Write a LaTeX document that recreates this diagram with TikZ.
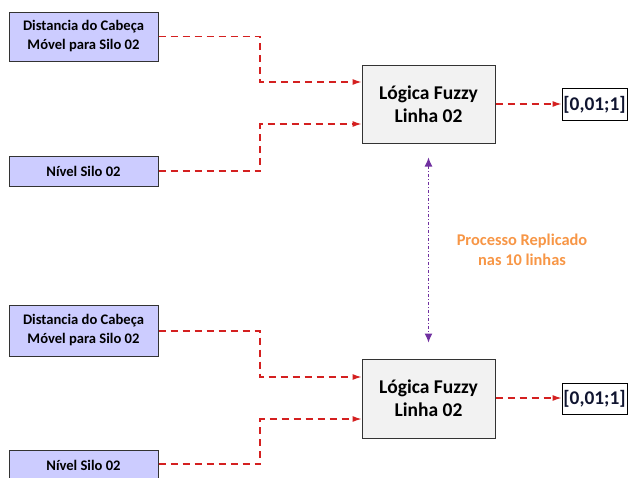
\documentclass[tikz,border=0pt]{standalone}
\usepackage{fontspec}
\setmainfont{Carlito}
\usetikzlibrary{arrows.meta}
\definecolor{inputfill}{HTML}{CCCCFF}
\definecolor{logicfill}{HTML}{F2F2F2}
\definecolor{linkred}{HTML}{D42020}
\definecolor{replica}{HTML}{7030A0}
\definecolor{notecol}{HTML}{F79646}
\definecolor{outtext}{HTML}{101530}
\tikzset{
  inbox/.style={draw=black!80, line width=1pt, fill=inputfill, minimum width=149pt,
    inner sep=0pt, align=center, font=\bfseries\fontsize{14.6}{19}\selectfont},
  logicbox/.style={draw=black!80, line width=1pt, fill=logicfill, minimum width=133pt,
    inner sep=0pt, align=center, font=\bfseries\fontsize{19.5}{23}\selectfont},
  outbox/.style={draw=black, line width=1pt, fill=white, minimum width=65pt,
    inner sep=0pt, text=outtext, font=\bfseries\fontsize{19.4}{22}\selectfont},
  link/.style={draw=linkred, line width=1.1pt, dash pattern=on 7pt off 5pt},
  linkarrow/.style={link, -{Latex[length=9pt,width=6pt]}},
  replicate/.style={draw=replica, line width=1.1pt, dash pattern=on 3pt off 2pt on 1pt off 2pt,
    {Latex[length=9pt,width=8pt]}-{Latex[length=9pt,width=8pt]}},
  note/.style={text=notecol, align=center, font=\bfseries\fontsize{16.4}{20}\selectfont}
}
\begin{document}
\begin{tikzpicture}[x=1pt, y=-1pt]
\useasboundingbox (0,0) rectangle (631,477);

% upper line
\node[inbox, minimum height=49pt] (in1) at (83.5,36.5) {Distancia do Cabeça\\Móvel para Silo 02};
\node[inbox, minimum height=30pt] (lv1) at (83.5,171) {Nível Silo 02};
\node[logicbox, minimum height=78pt] (fz1) at (428.5,104) {Lógica Fuzzy\\Linha 02};
\node[outbox, minimum height=32pt] (out1) at (594.5,104.5) {[0,01;1]};
\coordinate (j1) at (260,82);
\coordinate (k1) at (260,124);
\draw[linkarrow] (in1.east) -| (j1) -- (j1 -| fz1.west);
\draw[linkarrow] (lv1.east) -| (k1) -- (k1 -| fz1.west);
\draw[linkarrow] (fz1.east |- 0,104) -- (out1.west |- 0,104);

% lower line
\node[inbox, minimum height=51pt] (in2) at (83.5,330.5) {Distancia do Cabeça\\Móvel para Silo 02};
\node[inbox, minimum height=30pt] (lv2) at (83.5,465) {Nível Silo 02};
\node[logicbox, minimum height=79pt] (fz2) at (428.5,398.5) {Lógica Fuzzy\\Linha 02};
\node[outbox, minimum height=31pt] (out2) at (594.5,398.5) {[0,01;1]};
\coordinate (j2) at (260,377);
\coordinate (k2) at (260,419);
\draw[linkarrow] (in2.east |- 0,331) -| (j2) -- (j2 -| fz2.west);
\draw[linkarrow] (lv2.east |- 0,464) -| (k2) -- (k2 -| fz2.west);
\draw[linkarrow] (fz2.east |- 0,398) -- (out2.west |- 0,398);

% replication marker
\draw[replicate] ([yshift=-14pt]fz1.south) -- ([yshift=16pt]fz2.north);
\node[note] (rep) at (522,250) {Processo Replicado\\nas 10 linhas};
\end{tikzpicture}
\end{document}
